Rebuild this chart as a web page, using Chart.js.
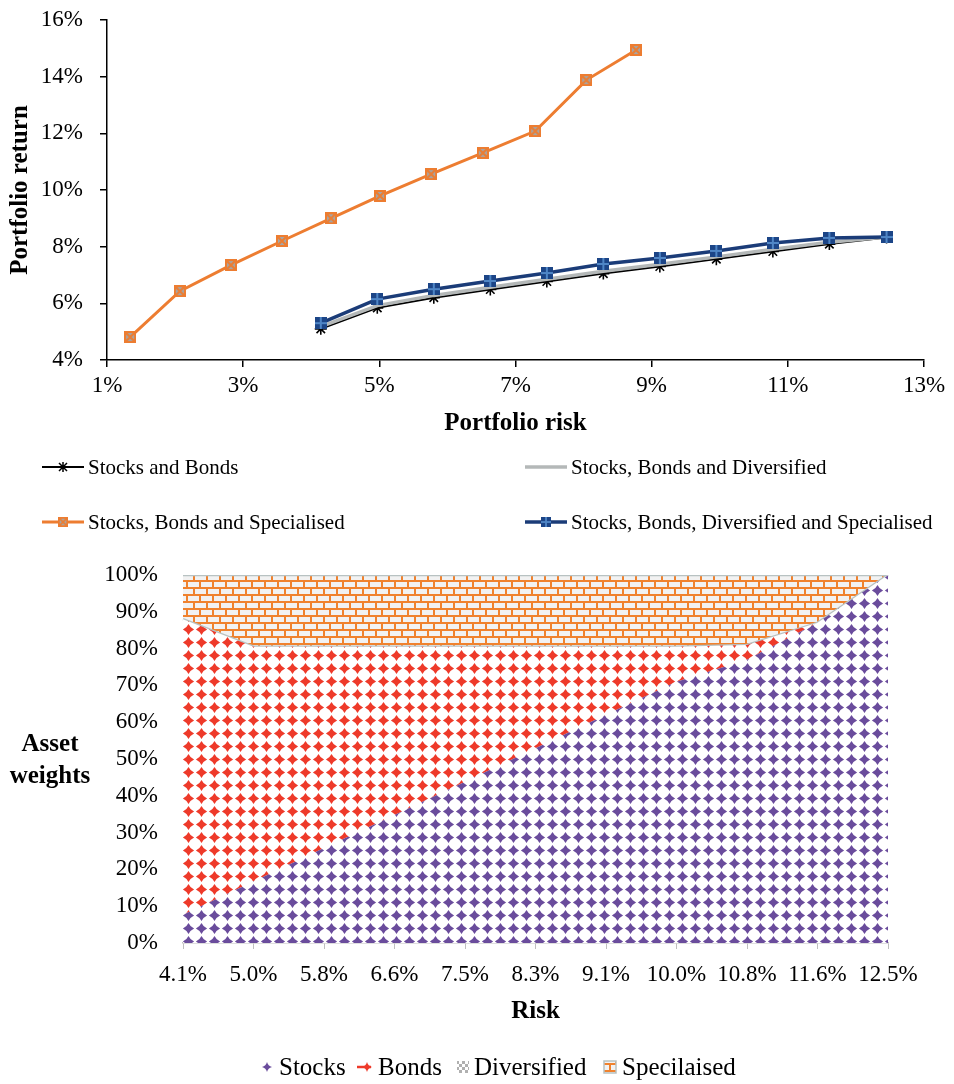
<!DOCTYPE html>
<html>
<head>
<meta charset="utf-8">
<script src="https://cdn.jsdelivr.net/npm/chart.js@4.4.0/dist/chart.umd.min.js"></script>
<title>Portfolio frontiers and asset weights</title>
<style>
  body { margin: 0; background: #fff; }
  #wrap { position: relative; width: 954px; height: 1084px; }
  canvas { position: absolute; left: 0; }
</style>
</head>
<body>
<div id="wrap">
  <canvas id="frontier" width="954" height="545" style="top:0"></canvas>
  <canvas id="weights" width="954" height="539" style="top:545px"></canvas>
</div>
<script>
// ---- top chart data (risk %, return %) ----
var riskSB   = [4.14, 4.97, 5.80, 6.63, 7.46, 8.29, 9.12, 9.95, 10.78, 11.61, 12.45];
var retSB    = [5.10, 5.84, 6.20, 6.49, 6.77, 7.05, 7.30, 7.56, 7.83, 8.09, 8.32];
var retSBD   = [5.18, 5.92, 6.28, 6.57, 6.85, 7.13, 7.38, 7.64, 7.91, 8.16, 8.34];
var riskSBS  = [1.34, 2.07, 2.82, 3.57, 4.29, 5.01, 5.76, 6.52, 7.29, 8.04, 8.77];
var retSBS   = [4.81, 6.43, 7.35, 8.20, 9.00, 9.79, 10.56, 11.31, 12.08, 13.88, 14.94];
var retSBDS  = [5.30, 6.15, 6.50, 6.79, 7.07, 7.39, 7.60, 7.85, 8.13, 8.31, 8.34];
var riskTicks = [1, 3, 5, 7, 9, 11, 13];

// ---- bottom chart data (weights %) ----
var riskLabels  = ['4.1%', '5.0%', '5.8%', '6.6%', '7.5%', '8.3%', '9.1%', '10.0%', '10.8%', '11.6%', '12.5%'];
var wStocks     = [7.7, 16.7, 25.8, 34.8, 43.8, 52.9, 62.0, 71.0, 77.0, 87.0, 100];
var wBonds      = [80.3, 63.8, 54.7, 45.7, 36.7, 27.6, 18.5, 9.5, 4.0, 0, 0];
var wDiversified = [0, 0, 0, 0, 0, 0, 0, 0, 0, 0, 0];
var wSpecialised = [12.0, 19.5, 19.5, 19.5, 19.5, 19.5, 19.5, 19.5, 19.0, 13.0, 0];

var serif = '"Liberation Serif", "Times New Roman", serif';
var pct = function(v) { return v + '%'; };
var pts = function(xs, ys) { return xs.map(function(x, i) { return {x: x, y: ys[i]}; }); };

function makeCanvas(w, h, draw) {
  var c = document.createElement('canvas');
  c.width = w; c.height = h;
  draw(c.getContext('2d'), w, h);
  return c;
}

// markers
var orangeMark = makeCanvas(12, 12, function(g, w, h) {
  g.fillStyle = '#a6a6a6'; g.fillRect(0, 0, w, h);
  g.strokeStyle = '#ed7d31'; g.lineWidth = 2;
  g.strokeRect(1, 1, w - 2, h - 2);
  g.beginPath(); g.moveTo(2, 2); g.lineTo(w - 2, h - 2); g.moveTo(w - 2, 2); g.lineTo(2, h - 2); g.stroke();
});
var blueMark = makeCanvas(12, 12, function(g, w, h) {
  g.fillStyle = '#1c4587'; g.fillRect(0, 0, w, h);
  g.strokeStyle = '#4f86c6'; g.lineWidth = 2;
  g.beginPath(); g.moveTo(w / 2, 0); g.lineTo(w / 2, h); g.moveTo(0, h / 2); g.lineTo(w, h / 2); g.stroke();
});

var frontierSlots = [
  {x: 42, y: 467}, {x: 525, y: 467}, {x: 42, y: 522}, {x: 525, y: 522}
];

var frontierLegend = {
  id: 'frontierLegend',
  afterDraw: function(chart) {
    var ctx = chart.ctx;
    ctx.save();
    chart.data.datasets.forEach(function(ds, i) {
      var s = frontierSlots[i];
      ctx.strokeStyle = ds.borderColor;
      ctx.lineWidth = ds.borderWidth;
      ctx.beginPath(); ctx.moveTo(s.x, s.y); ctx.lineTo(s.x + 42, s.y); ctx.stroke();
      var cx = s.x + 21;
      if (ds.pointStyle instanceof HTMLCanvasElement) {
        ctx.drawImage(ds.pointStyle, cx - 5, s.y - 5, 10, 10);
      } else if (ds.pointStyle === 'star') {
        ctx.strokeStyle = '#000'; ctx.lineWidth = 1.5;
        ctx.beginPath();
        ctx.moveTo(cx - 4, s.y - 4); ctx.lineTo(cx + 4, s.y + 4);
        ctx.moveTo(cx + 4, s.y - 4); ctx.lineTo(cx - 4, s.y + 4);
        ctx.moveTo(cx, s.y - 5); ctx.lineTo(cx, s.y + 5);
        ctx.stroke();
      }
      ctx.fillStyle = '#000';
      ctx.font = '21px ' + serif;
      ctx.textBaseline = 'middle';
      ctx.fillText(ds.label, s.x + 46, s.y + 1);
    });
    ctx.restore();
  }
};

// stop the label padding from pushing the plot area down
function noVerticalPadding(s) {
  s.paddingTop = 0;
  s.paddingBottom = 0;
}

new Chart(document.getElementById('frontier'), {
  type: 'line',
  data: {
    datasets: [
      { label: 'Stocks and Bonds', data: pts(riskSB, retSB), borderColor: '#000', borderWidth: 2,
        pointStyle: 'star', pointRadius: 6, pointBorderColor: '#000', pointBorderWidth: 1.6, order: 2 },
      { label: 'Stocks, Bonds and Diversified', data: pts(riskSB, retSBD), borderColor: '#b4b8b8', borderWidth: 3.5,
        pointRadius: 0, order: 1 },
      { label: 'Stocks, Bonds and Specialised', data: pts(riskSBS, retSBS), borderColor: '#ed7d31', borderWidth: 3,
        pointStyle: orangeMark, pointRadius: 6, order: 3 },
      { label: 'Stocks, Bonds, Diversified and Specialised', data: pts(riskSB, retSBDS), borderColor: '#1b3c78', borderWidth: 3.5,
        pointStyle: blueMark, pointRadius: 6, order: 0 }
    ]
  },
  options: {
    responsive: false,
    animation: false,
    layout: { padding: { top: 20, right: 30, bottom: 100, left: 0 } },
    plugins: { legend: { display: false }, tooltip: { enabled: false } },
    scales: {
      x: {
        type: 'linear', min: 1, max: 13,
        afterBuildTicks: function(s) { s.ticks = riskTicks.map(function(v) { return {value: v}; }); },
        afterFit: function(s) { s.height = 85; },
        grid: { drawOnChartArea: false, tickLength: 7, color: '#000', lineWidth: 1.5 },
        border: { color: '#000', width: 1.5 },
        ticks: { callback: pct, padding: 5, color: '#000', font: { family: serif, size: 23 }, maxRotation: 0 },
        title: { display: true, text: 'Portfolio risk', color: '#000', padding: { top: 0, bottom: 6 },
                 font: { family: serif, size: 25, weight: 'bold' } }
      },
      y: {
        min: 4, max: 16,
        ticks: { stepSize: 2, callback: pct, padding: 17, color: '#000', font: { family: serif, size: 23 } },
        afterFit: function(s) { s.width = 107; noVerticalPadding(s); },
        grid: { drawOnChartArea: false, tickLength: 7, color: '#000', lineWidth: 1.5 },
        border: { color: '#000', width: 1.5 },
        title: { display: true, text: 'Portfolio return', color: '#000', padding: { top: 6, bottom: 0 },
                 font: { family: serif, size: 25, weight: 'bold' } }
      }
    }
  },
  plugins: [frontierLegend]
});

// ---- bottom chart: patterned stacked areas ----
var wctx = document.getElementById('weights').getContext('2d');

function starTile(color) {
  return makeCanvas(13, 13, function(g, w, h) {
    g.fillStyle = '#fff'; g.fillRect(0, 0, w, h);
    g.fillStyle = color;
    var c = 6.5, r = 5.6;
    g.beginPath();
    g.moveTo(c, c - r);
    g.quadraticCurveTo(c + 1.8, c - 1.8, c + r, c);
    g.quadraticCurveTo(c + 1.8, c + 1.8, c, c + r);
    g.quadraticCurveTo(c - 1.8, c + 1.8, c - r, c);
    g.quadraticCurveTo(c - 1.8, c - 1.8, c, c - r);
    g.fill();
  });
}
var brickTile = makeCanvas(26, 14, function(g, w, h) {
  g.fillStyle = '#f0822e'; g.fillRect(0, 0, w, h);
  g.fillStyle = '#f2f2f2';
  g.fillRect(0, 2, 11, 5); g.fillRect(13, 2, 11, 5);
  g.fillRect(-7, 9, 11, 5); g.fillRect(6, 9, 11, 5); g.fillRect(19, 9, 11, 5);
});
var diversTile = makeCanvas(6, 6, function(g, w, h) {
  g.fillStyle = '#fff'; g.fillRect(0, 0, w, h);
  g.fillStyle = '#b0b0b0'; g.fillRect(0, 0, 3, 3); g.fillRect(3, 3, 3, 3);
});
var purpleTile = starTile('#6a4c9c');
var redTile = starTile('#ee3a2a');

var patStocks = wctx.createPattern(purpleTile, 'repeat');
var patBonds = wctx.createPattern(redTile, 'repeat');
var patDivers = wctx.createPattern(diversTile, 'repeat');
var patSpec = wctx.createPattern(brickTile, 'repeat');

var weightLegendItems = [
  {x: 267, kind: 'stocks', label: 'Stocks', textX: 279},
  {x: 365, kind: 'bonds', label: 'Bonds', textX: 378},
  {x: 463, kind: 'divers', label: 'Diversified', textX: 474},
  {x: 610, kind: 'spec', label: 'Specilaised', textX: 622}
];

function diamond(ctx, x, y, r, color) {
  ctx.fillStyle = color;
  ctx.beginPath();
  ctx.moveTo(x, y - r);
  ctx.quadraticCurveTo(x + 1, y - 1, x + r, y);
  ctx.quadraticCurveTo(x + 1, y + 1, x, y + r);
  ctx.quadraticCurveTo(x - 1, y + 1, x - r, y);
  ctx.quadraticCurveTo(x - 1, y - 1, x, y - r);
  ctx.fill();
}

var weightsExtras = {
  id: 'weightsExtras',
  afterDraw: function(chart) {
    var ctx = chart.ctx;
    ctx.save();
    // y axis title, horizontal on two lines
    ctx.fillStyle = '#000';
    ctx.font = 'bold 25px ' + serif;
    ctx.textAlign = 'center';
    ctx.textBaseline = 'middle';
    ctx.fillText('Asset', 50, 200);
    ctx.fillText('weights', 50, 232);
    // legend
    var ly = 522;
    weightLegendItems.forEach(function(it) {
      if (it.kind === 'stocks') {
        diamond(ctx, it.x, ly, 5, '#6a4c9c');
      } else if (it.kind === 'bonds') {
        ctx.strokeStyle = '#ee3a2a'; ctx.lineWidth = 2.5;
        ctx.beginPath(); ctx.moveTo(it.x - 8, ly); ctx.lineTo(it.x + 6, ly); ctx.stroke();
        diamond(ctx, it.x + 2, ly, 5, '#ee3a2a');
      } else if (it.kind === 'divers') {
        ctx.fillStyle = patDivers; ctx.fillRect(it.x - 6, ly - 6, 12, 12);
      } else {
        ctx.fillStyle = patSpec; ctx.fillRect(it.x - 6, ly - 6, 12, 12);
        ctx.strokeStyle = '#b8c2c2'; ctx.lineWidth = 1.5; ctx.strokeRect(it.x - 6, ly - 6, 12, 12);
      }
      ctx.fillStyle = '#000';
      ctx.font = '25px ' + serif;
      ctx.textAlign = 'left';
      ctx.fillText(it.label, it.textX, ly + 1);
    });
    ctx.restore();
  }
};

new Chart(wctx, {
  type: 'line',
  data: {
    labels: riskLabels,
    datasets: [
      { label: 'Stocks', data: wStocks, fill: 'origin', backgroundColor: patStocks, borderWidth: 0, pointRadius: 0 },
      { label: 'Bonds', data: wBonds, fill: '-1', backgroundColor: patBonds, borderWidth: 0, pointRadius: 0 },
      { label: 'Diversified', data: wDiversified, fill: '-1', backgroundColor: patDivers, borderColor: '#b8c2c2', borderWidth: 2.5, pointRadius: 0 },
      { label: 'Specilaised', data: wSpecialised, fill: '-1', backgroundColor: patSpec, borderColor: '#b8c2c2', borderWidth: 2.5, pointRadius: 0 }
    ]
  },
  options: {
    responsive: false,
    animation: false,
    layout: { padding: { top: 30, right: 66, bottom: 55, left: 0 } },
    elements: { line: { tension: 0 } },
    plugins: { legend: { display: false }, tooltip: { enabled: false } },
    scales: {
      x: {
        type: 'category', offset: false,
        afterFit: function(s) { s.height = 86; },
        grid: { drawOnChartArea: false, tickLength: 6, color: '#bfbfbf' },
        border: { color: '#bfbfbf', width: 1.5 },
        ticks: { autoSkip: false, maxRotation: 0, padding: 12, color: '#000', font: { family: serif, size: 23 } },
        title: { display: true, text: 'Risk', color: '#000', padding: { top: 0, bottom: 2 },
                 font: { family: serif, size: 25, weight: 'bold' } }
      },
      y: {
        stacked: true, min: 0, max: 100,
        afterFit: function(s) { s.width = 183; noVerticalPadding(s); },
        grid: { display: false, drawTicks: false },
        border: { display: false },
        ticks: { stepSize: 10, callback: pct, padding: 25, color: '#000', font: { family: serif, size: 23 } }
      }
    }
  },
  plugins: [weightsExtras]
});
</script>
</body>
</html>
